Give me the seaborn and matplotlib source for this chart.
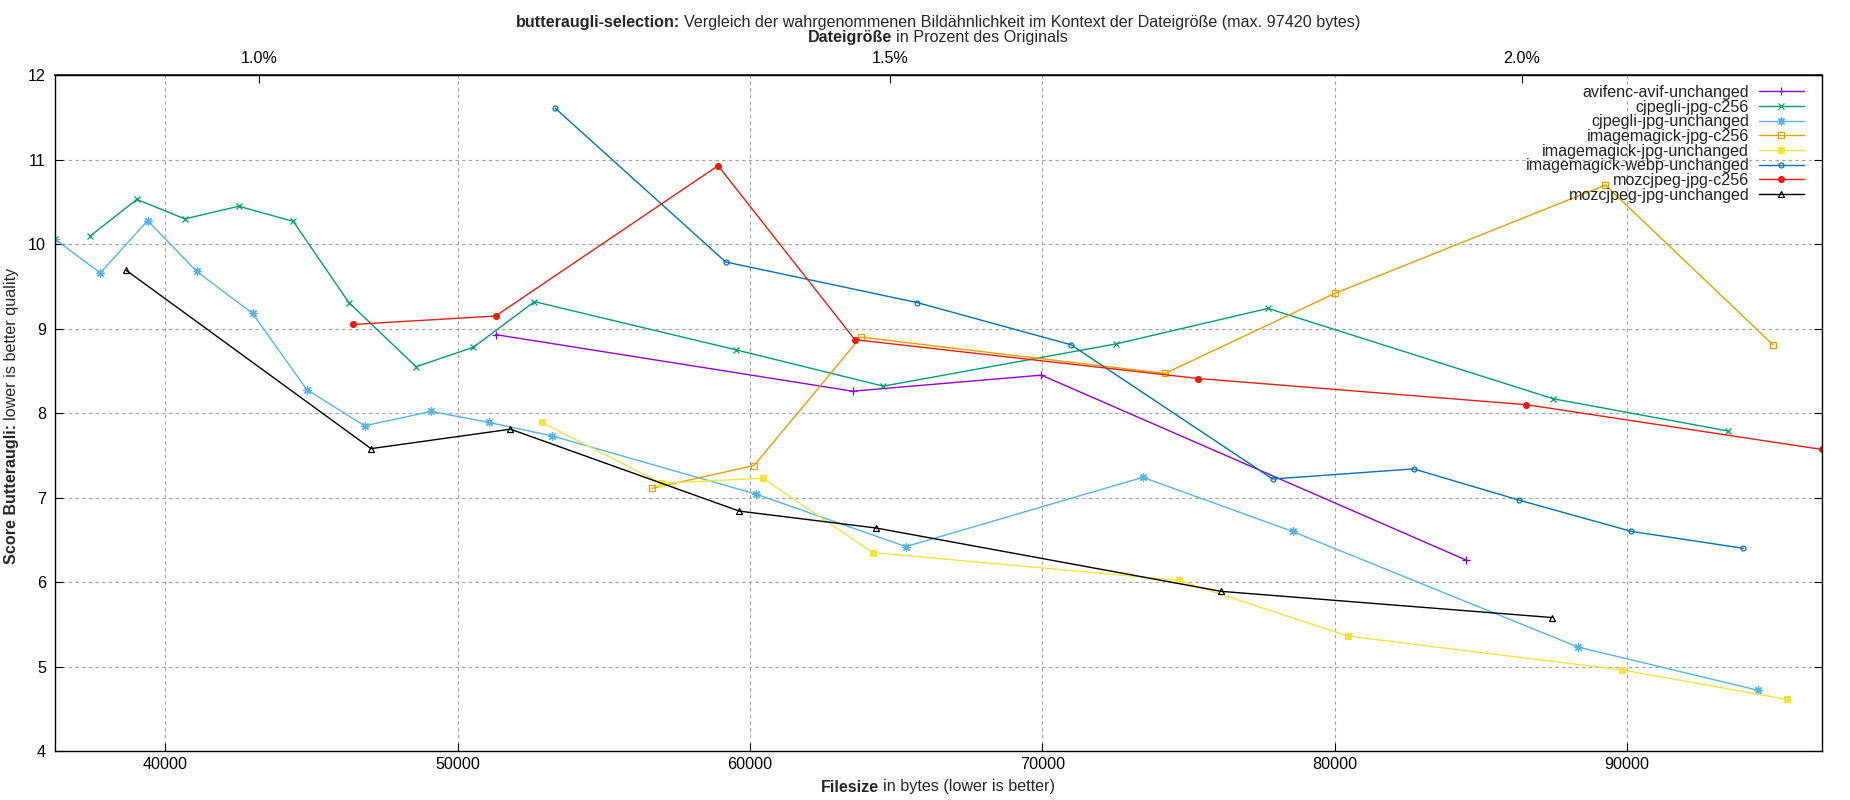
import matplotlib
matplotlib.use("Agg")
import matplotlib.pyplot as plt
from matplotlib.ticker import FixedLocator, FuncFormatter
import seaborn as sns

# data (bytes, butteraugli score)
avif_x = [51300, 63510, 69970, 84500]
avif_y = [8.93, 8.26, 8.45, 6.26]

cjpegli_c256_x = [37440, 39030, 40670, 42520, 44380, 46280, 48580, 50540, 52630,
                  59520, 64560, 72530, 77720, 87480, 93440]
cjpegli_c256_y = [10.10, 10.53, 10.30, 10.45, 10.27, 9.31, 8.55, 8.78, 9.32,
                  8.75, 8.32, 8.82, 9.24, 8.17, 7.79]

cjpegli_unch_x = [36230, 37780, 39400, 41070, 42990, 44840, 46820, 49100, 51080,
                  53240, 60220, 65330, 73440, 78560, 88330, 94470]
cjpegli_unch_y = [10.06, 9.66, 10.28, 9.68, 9.18, 8.28, 7.85, 8.02, 7.89,
                  7.73, 7.04, 6.42, 7.24, 6.60, 5.23, 4.72]

im_c256_x = [56650, 60140, 63790, 74200, 80020, 89260, 94990]
im_c256_y = [7.11, 7.38, 8.90, 8.47, 9.42, 10.70, 8.81]

im_unch_x = [52880, 56970, 60440, 64200, 74670, 80460, 89830, 95480]
im_unch_y = [7.89, 7.17, 7.23, 6.35, 6.02, 5.36, 4.96, 4.61]

webp_x = [53340, 59170, 65710, 70980, 77880, 82700, 86310, 90150, 93980]
webp_y = [11.61, 9.79, 9.31, 8.81, 7.22, 7.34, 6.97, 6.60, 6.40]

moz_c256_x = [46420, 51300, 58910, 63590, 75340, 86560, 96670]
moz_c256_y = [9.05, 9.15, 10.93, 8.87, 8.41, 8.10, 7.57]

moz_unch_x = [38670, 47040, 51810, 59640, 64320, 76120, 87440]
moz_unch_y = [9.69, 7.58, 7.81, 6.84, 6.64, 5.89, 5.58]

names = ["avifenc-avif-unchanged", "cjpegli-jpg-c256", "cjpegli-jpg-unchanged",
         "imagemagick-jpg-c256", "imagemagick-jpg-unchanged",
         "imagemagick-webp-unchanged", "mozcjpeg-jpg-c256", "mozcjpeg-jpg-unchanged"]
xs = [avif_x, cjpegli_c256_x, cjpegli_unch_x, im_c256_x, im_unch_x, webp_x, moz_c256_x, moz_unch_x]
ys = [avif_y, cjpegli_c256_y, cjpegli_unch_y, im_c256_y, im_unch_y, webp_y, moz_c256_y, moz_unch_y]

orig_bytes = 4320500          # 1 % == 43205 bytes on the top axis
pct_ticks = [1.0, 1.5, 2.0]
y_ticks = [4, 5, 6, 7, 8, 9, 10, 11, 12]
x_ticks = [40000, 50000, 60000, 70000, 80000, 90000]

colors = ["#9400d3", "#009e73", "#56b4e9", "#e69f00", "#f0e442", "#0072b2", "#e51e10", "#000000"]
markers = ["+", "x", (8, 2, 0), "s", "s", "o", "o", "^"]
filled = [True, True, True, False, True, False, True, False]
msizes = [6, 5, 6, 5, 5, 3.5, 4.2, 5]

sns.set_theme(style="white")
plt.rcParams["font.family"] = ["Liberation Sans", "DejaVu Sans"]
FS = 11.6

W, H = 1850, 800
fig = plt.figure(figsize=(W / 100, H / 100), dpi=100)
ax = fig.add_axes([55 / W, 1 - 751 / H, (1822 - 55) / W, (751 - 75.3) / H])

for name, x, y, c, m, f, s in zip(names, xs, ys, colors, markers, filled, msizes):
    sns.lineplot(x=x, y=y, ax=ax, color=c, marker=m, markersize=s,
                 markerfacecolor=c if f else "none", markeredgecolor=c,
                 markeredgewidth=0.9, linewidth=1.0, label=name,
                 sort=False, estimator=None)

all_x = [v for x in xs for v in x]
ax.set_xlim(min(all_x), max(all_x))
ax.set_ylim(4, 12)
ax.set_xlabel("")
ax.set_ylabel("")
ax.xaxis.set_major_locator(FixedLocator(x_ticks))
ax.yaxis.set_major_locator(FixedLocator(y_ticks))
ax.grid(True, color="#a0a0a0", linestyle=(0, (3, 3)), linewidth=0.8)
for sp in ax.spines.values():
    sp.set_color("black")
    sp.set_linewidth(1.0)
ax.tick_params(axis="x", direction="in", length=6, width=0.8, labelsize=FS,
               pad=4, bottom=True, top=False, colors="black")
ax.tick_params(axis="y", direction="in", length=6, width=0.8, labelsize=FS,
               pad=6.5, left=True, right=True, colors="black")

top = ax.secondary_xaxis("top", functions=(lambda b: b / orig_bytes * 100,
                                           lambda p: p * orig_bytes / 100))
top.xaxis.set_major_locator(FixedLocator(pct_ticks))
top.xaxis.set_major_formatter(FuncFormatter(lambda v, p: f"{v:.1f}%"))
top.tick_params(direction="in", length=6, width=0.8, labelsize=FS, pad=6.5, colors="black")

leg = ax.legend(loc="upper right", bbox_to_anchor=(1804 / W, 1 - 85 / H),
                bbox_transform=fig.transFigure, frameon=False, markerfirst=False,
                fontsize=FS, handlelength=2.8, handletextpad=0.6,
                labelspacing=-0.02, borderpad=0, borderaxespad=0)
for t in leg.get_texts():
    t.set_color("#222222")


def mixed_text(x_px, y_px, parts, vertical=False):
    # draws bold/regular pieces side by side, centred on (x_px, y_px) from top-left
    r = fig.canvas.get_renderer()
    objs = [fig.text(0, 0, s, fontsize=FS, fontweight=w, ha="left", va="baseline",
                     rotation=90 if vertical else 0, rotation_mode="anchor")
            for s, w in parts]
    sizes = []
    for t in objs:
        bb = t.get_window_extent(renderer=r)
        sizes.append(bb.height if vertical else bb.width)
    gap = FS * 100 / 72 * 0.278
    total = sum(sizes) + gap * (len(parts) - 1)
    if vertical:
        pos = (H - y_px) - total / 2
        for t, s in zip(objs, sizes):
            t.set_position((x_px / W, pos / H))
            pos += s + gap
    else:
        pos = x_px - total / 2
        for t, s in zip(objs, sizes):
            t.set_position((pos / W, 1 - y_px / H))
            pos += s + gap


mixed_text(938, 26.7, [("butteraugli-selection:", "bold"),
                       ("Vergleich der wahrgenommenen Bildähnlichkeit im Kontext der Dateigröße (max. 97420 bytes)", "normal")])
mixed_text(938, 41.7, [("Dateigröße", "bold"), ("in Prozent des Originals", "normal")])
mixed_text(938, 791.5, [("Filesize", "bold"), ("in bytes (lower is better)", "normal")])
mixed_text(16, 416, [("Score Butteraugli:", "bold"), ("lower is better quality", "normal")], vertical=True)

fig.savefig("out.png", dpi=100)
